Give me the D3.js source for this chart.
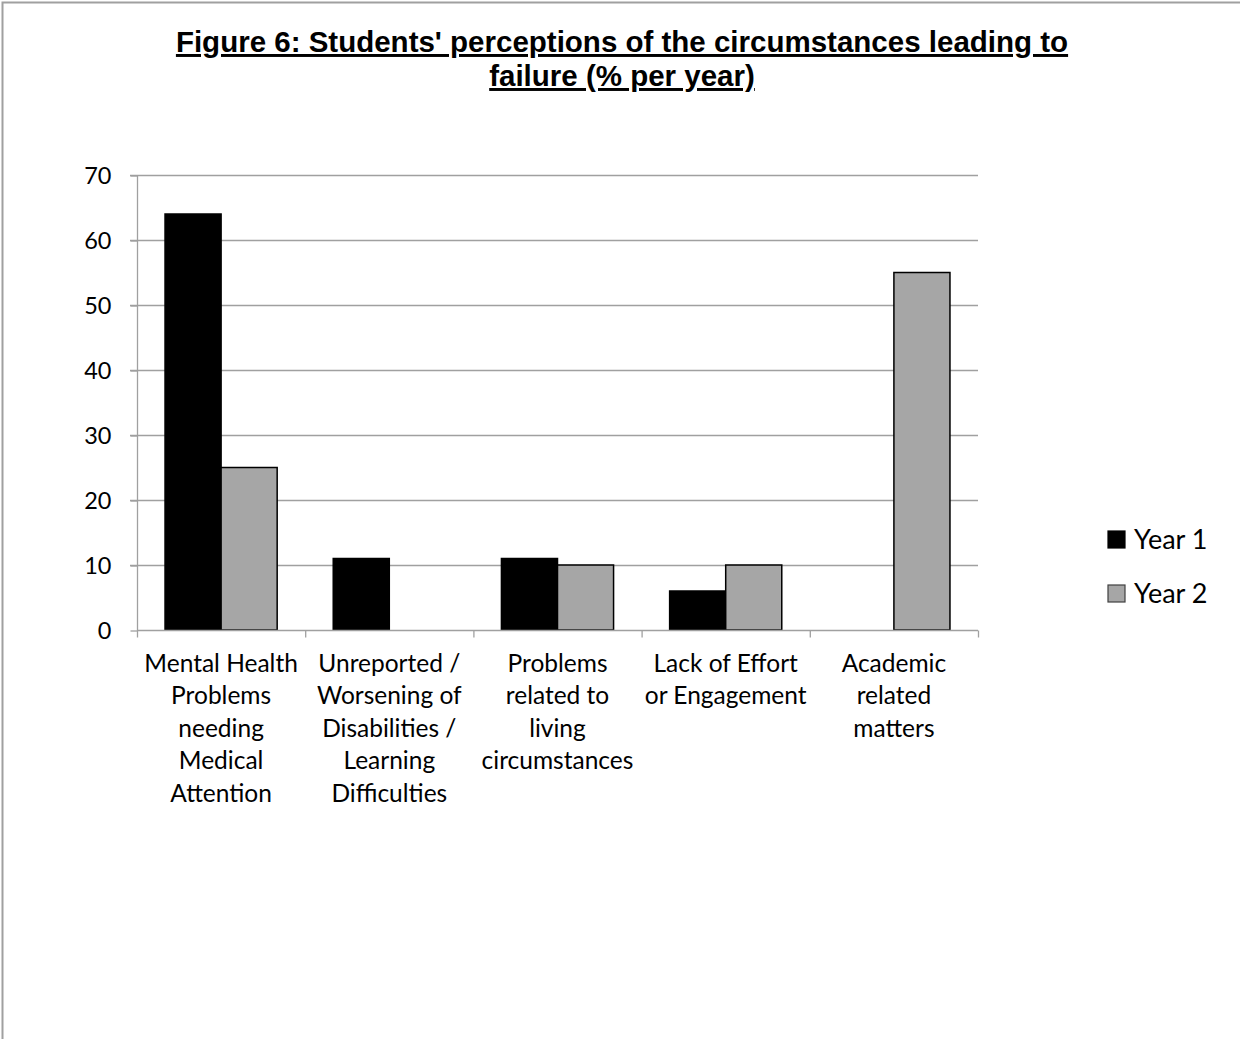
<!DOCTYPE html>
<html>
<head>
<meta charset="utf-8">
<script src="https://cdn.jsdelivr.net/npm/d3@7"></script>
<style>
  body { margin: 0; background: #fff; }
  svg { display: block; }
</style>
</head>
<body>
<div id="chart"></div>
<script>
// data
var categories = [
  ["Mental Health", "Problems", "needing", "Medical", "Attention"],
  ["Unreported /", "Worsening of", "Disabilities /", "Learning", "Difficulties"],
  ["Problems", "related to", "living", "circumstances"],
  ["Lack of Effort", "or Engagement"],
  ["Academic", "related", "matters"]
];
var seriesNames = ["Year 1", "Year 2"];
var year1 = [64, 11, 11, 6, 0];
var year2 = [25, 0, 10, 10, 55];
var yTicks = [0, 10, 20, 30, 40, 50, 60, 70];
var titleLines = ["Figure 6: Students' perceptions of the circumstances leading to", "failure (% per year)"];

var W = 1240, H = 1039;
var plotL = 137, plotR = 978, plotT = 175, plotB = 630;
var colors = ["#000000", "#a6a6a6"];
var labelFont = "Lato, 'Open Sans', sans-serif";

var svg = d3.select("#chart").append("svg")
    .attr("width", W)
    .attr("height", H);

// frame
svg.append("rect")
    .attr("x", 2.5).attr("y", 2.5)
    .attr("width", W + 10).attr("height", H + 10)
    .attr("fill", "none")
    .attr("stroke", "#a0a0a0")
    .attr("stroke-width", 2);

// title
var title = svg.append("text")
    .attr("text-anchor", "middle")
    .style("font-family", "'Liberation Sans', Arial, sans-serif")
    .style("font-weight", "bold")
    .style("font-size", "29.5px")
    .style("text-decoration", "underline");
title.selectAll("tspan").data(titleLines).enter().append("tspan")
    .attr("x", 622)
    .attr("y", function (d, i) { return 52 + i * 34; })
    .text(function (d) { return d; });

var idx = d3.range(categories.length);
var x = d3.scaleBand().domain(idx).range([plotL, plotR]).padding(0);
// two bars per group, 1/6 of the band left empty on each side
var xs = d3.scaleBand().domain([0, 1]).range([x.bandwidth() / 6, x.bandwidth() * 5 / 6]).padding(0);
var y = d3.scaleLinear().domain([0, 70]).range([plotB, plotT]);

// gridlines
svg.append("g").selectAll("line").data(yTicks.slice(1)).enter().append("line")
    .attr("x1", plotL - 7).attr("x2", plotR)
    .attr("y1", function (d) { return y(d) + 0.5; })
    .attr("y2", function (d) { return y(d) + 0.5; })
    .attr("stroke", "#a0a0a0")
    .attr("stroke-width", 1.3);

// y axis
var yAxis = svg.append("g")
    .attr("transform", "translate(" + (plotL + 0.5) + ",0.5)")
    .call(d3.axisLeft(y).tickValues(yTicks).tickSize(7).tickPadding(19).tickFormat(d3.format("d")));
yAxis.select(".domain").attr("stroke", "#a0a0a0").attr("stroke-width", 1.3).attr("d", "M0," + plotT + "V" + plotB);
yAxis.selectAll(".tick line").attr("stroke", "#a0a0a0").attr("stroke-width", 1.3);
yAxis.selectAll(".tick text")
    .style("font-family", labelFont)
    .style("font-size", "23.5px")
    .attr("fill", "#000");

// bars (zero values draw nothing)
var series = [year1, year2];
series.forEach(function (vals, s) {
  var pts = vals.map(function (v, i) { return { i: i, v: v }; })
      .filter(function (p) { return p.v > 0; });
  svg.append("g").selectAll("rect").data(pts).enter().append("rect")
      .attr("x", function (p) { return x(p.i) + xs(s); })
      .attr("y", function (p) { return y(p.v); })
      .attr("width", xs.bandwidth())
      .attr("height", function (p) { return y(0) - y(p.v); })
      .attr("fill", colors[s])
      .attr("stroke", "#000")
      .attr("stroke-width", 1.5);
});

// x axis
var xAxis = svg.append("g")
    .attr("transform", "translate(0," + (plotB + 0.5) + ")");
xAxis.append("line")
    .attr("x1", plotL).attr("x2", plotR)
    .attr("stroke", "#a0a0a0").attr("stroke-width", 1.3);
xAxis.selectAll(".xt").data(idx.concat([categories.length])).enter().append("line")
    .attr("class", "xt")
    .attr("x1", function (d) { return (d < categories.length ? x(d) : plotR) + 0.5; })
    .attr("x2", function (d) { return (d < categories.length ? x(d) : plotR) + 0.5; })
    .attr("y1", 0).attr("y2", 7)
    .attr("stroke", "#a0a0a0").attr("stroke-width", 1.3);

xAxis.selectAll(".xl").data(categories).enter().append("text")
    .attr("class", "xl")
    .attr("text-anchor", "middle")
    .style("font-family", labelFont)
    .style("font-size", "24.5px")
    .each(function (lines, i) {
      d3.select(this).selectAll("tspan").data(lines).enter().append("tspan")
          .attr("x", x(i) + x.bandwidth() / 2)
          .attr("y", function (d, j) { return 41 + j * 32.5; })
          .text(function (d) { return d; });
    });

// legend
var legend = svg.append("g").attr("transform", "translate(1108,531)");
seriesNames.forEach(function (name, s) {
  var g = legend.append("g").attr("transform", "translate(0," + (s * 54) + ")");
  g.append("rect")
      .attr("width", 17).attr("height", 17)
      .attr("fill", colors[s])
      .attr("stroke", s === 0 ? "#000" : "#404040")
      .attr("stroke-width", 1.2);
  g.append("text")
      .attr("x", 26).attr("y", 18)
      .style("font-family", labelFont)
      .style("font-size", "27px")
      .text(name);
});
</script>
</body>
</html>
